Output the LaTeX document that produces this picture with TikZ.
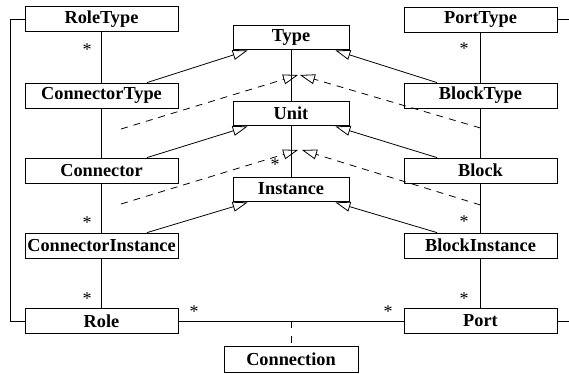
\documentclass[tikz,border=0pt]{standalone}
\usepackage{fontspec}
\setmainfont{Liberation Serif}
\usetikzlibrary{arrows.meta,calc}
\begin{document}
\begin{tikzpicture}[x=1pt,y=-1pt,
  line width=0.8pt,
  cls/.style={draw, rectangle, inner sep=0pt, minimum height=25pt,
    font=\fontsize{18.3}{20}\selectfont\bfseries},
  side/.style={cls, minimum width=153pt},
  core/.style={cls, minimum width=116pt, minimum height=24pt},
  gen/.style={-{Triangle[open,length=15pt,width=10pt]}},
  real/.style={gen, dash pattern=on 7pt off 6pt},
  mult/.style={anchor=base, inner sep=0pt, font=\fontsize{18}{20}\selectfont}]
\useasboundingbox (0,0) rectangle (569,373);

% left column
\node[side] (rt) at (101.5,19) {RoleType};
\node[side] (ct) at (101.5,95.5) {ConnectorType};
\node[side] (cn) at (101.5,170.5) {Connector};
\node[side] (ci) at (101.5,245.5) {ConnectorInstance};
\node[side] (ro) at (101.5,321) {Role};
% right column
\node[side] (pt) at (480.5,19.5) {PortType};
\node[side] (bt) at (480.5,95.5) {BlockType};
\node[side] (bl) at (480.5,170.5) {Block};
\node[side] (bi) at (480.5,245.5) {BlockInstance};
\node[side] (po) at (480.5,321) {Port};
% centre column
\node[core] (ty) at (291,37) {Type};
\node[core] (un) at (291,113) {Unit};
\node[core] (in) at (291,189) {Instance};
\node[cls, minimum width=134pt, minimum height=26pt] (co) at (291,359) {Connection};

% vertical associations
\draw (rt) -- (ct); \draw (ct) -- (cn); \draw (cn) -- (ci); \draw (ci) -- (ro);
\draw (pt) -- (bt); \draw (bt) -- (bl); \draw (bl) -- (bi); \draw (bi) -- (po);
\draw (ty) -- (un); \draw (un) -- (in);

% outer links
\coordinate (lx) at (10,0);
\coordinate (rx) at (569,0);
\draw (rt.west) -- (rt.west -| lx) -- (ro.west -| lx) -- (ro.west);
\draw (pt.east) -- (pt.east -| rx);
\draw (po.east) -- (po.east -| rx);
\draw (ro) -- (po);
\draw[dash pattern=on 7pt off 8pt] (ro.east -| co.north) -- (co.north);

% generalizations
\draw[gen] ([xshift=45.5pt]ct.north) -- ([xshift=15pt,yshift=-1pt]ty.south west);
\draw[gen] ([xshift=-43.5pt]bt.north) -- ([xshift=-14pt,yshift=-1pt]ty.south east);
\draw[gen] ([xshift=45.5pt]cn.north) -- ([xshift=15pt,yshift=-1pt]un.south west);
\draw[gen] ([xshift=-43.5pt]bl.north) -- ([xshift=-14pt,yshift=-1pt]un.south east);
\draw[gen] ([xshift=45.5pt]ci.north) -- ([xshift=15pt,yshift=-1pt]in.south west);
\draw[gen] ([xshift=-43.5pt]bi.north) -- ([xshift=-14pt,yshift=-1pt]in.south east);

% realizations
\coordinate (a1) at (121,129);
\coordinate (a2) at (480.5,128);
\coordinate (t1) at (298,75);
\coordinate (t2) at (300,75);
\coordinate (b1) at (121,204);
\coordinate (b2) at (480.5,205);
\coordinate (s1) at (298,150);
\coordinate (s2) at (302,150);
\draw[real] (a1) -- (t1);
\draw[real] (a2) -- (t2);
\draw[real] (b1) -- (s1);
\draw[real] (b2) -- (s2);

% multiplicities
\node[mult] (m1) at (87,55) {*};
\node[mult] (m2) at (87,228) {*};
\node[mult] (m3) at (87,304) {*};
\node[mult] (m4) at (194,317) {*};
\node[mult] (m5) at (388,317) {*};
\node[mult] (m6) at (464,54) {*};
\node[mult] (m7) at (464,227) {*};
\node[mult] (m8) at (464,304) {*};
\node[mult] (m9) at (275,170) {*};
\end{tikzpicture}
\end{document}
